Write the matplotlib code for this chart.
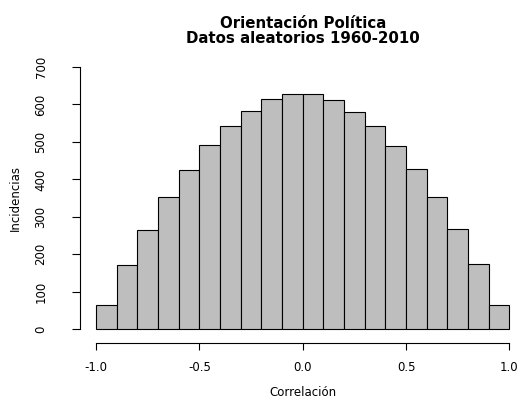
import numpy as np
import matplotlib
matplotlib.use("Agg")
import matplotlib.pyplot as plt

plt.rcParams['font.family'] = ['DejaVu Sans']

# histogram counts, bins of width 0.1 from -1 to 1
bin_edges = np.round(np.arange(-1.0, 1.0001, 0.1), 2)
counts = [64, 172, 266, 352, 424, 492, 542, 582, 614, 627,
          627, 611, 579, 542, 488, 428, 352, 268, 174, 66]
xticks = [-1.0, -0.5, 0.0, 0.5, 1.0]
yticks = [0, 100, 200, 300, 400, 500, 600, 700]

fig = plt.figure(figsize=(5.21, 3.99), dpi=100)
ax = fig.add_axes([0.1526, 0.1484, 0.857, 0.71])

ax.hist(bin_edges[:-1], bins=bin_edges, weights=counts,
        color='#bebebe', edgecolor='black', linewidth=0.8)

ax.set_xlim(-1.08, 1.08)
ax.set_ylim(-28, 728)

for s in ['top', 'right']:
    ax.spines[s].set_visible(False)
ax.spines['left'].set_bounds(0, 700)
ax.spines['bottom'].set_bounds(-1, 1)
ax.spines['bottom'].set_position(('outward', 2))
for s in ['left', 'bottom']:
    ax.spines[s].set_linewidth(0.8)

ax.set_xticks(xticks)
ax.set_xticklabels(['%.1f' % v for v in xticks])
ax.set_yticks(yticks)
ax.set_yticklabels([str(v) for v in yticks], rotation=90, va='center')
ax.tick_params(axis='x', length=5, width=0.8, pad=8, labelsize=8.5)
ax.tick_params(axis='y', length=6, width=0.8, pad=17, labelsize=8.5)

ax.set_xlabel('Correlación', fontsize=8.5, labelpad=9)
ax.set_ylabel('Incidencias', fontsize=8.5, labelpad=9)
ax.set_title('Orientación Política\nDatos aleatorios 1960-2010',
             fontsize=10.8, fontweight='bold', pad=10, linespacing=0.95)

fig.savefig('out.png', dpi=100)
